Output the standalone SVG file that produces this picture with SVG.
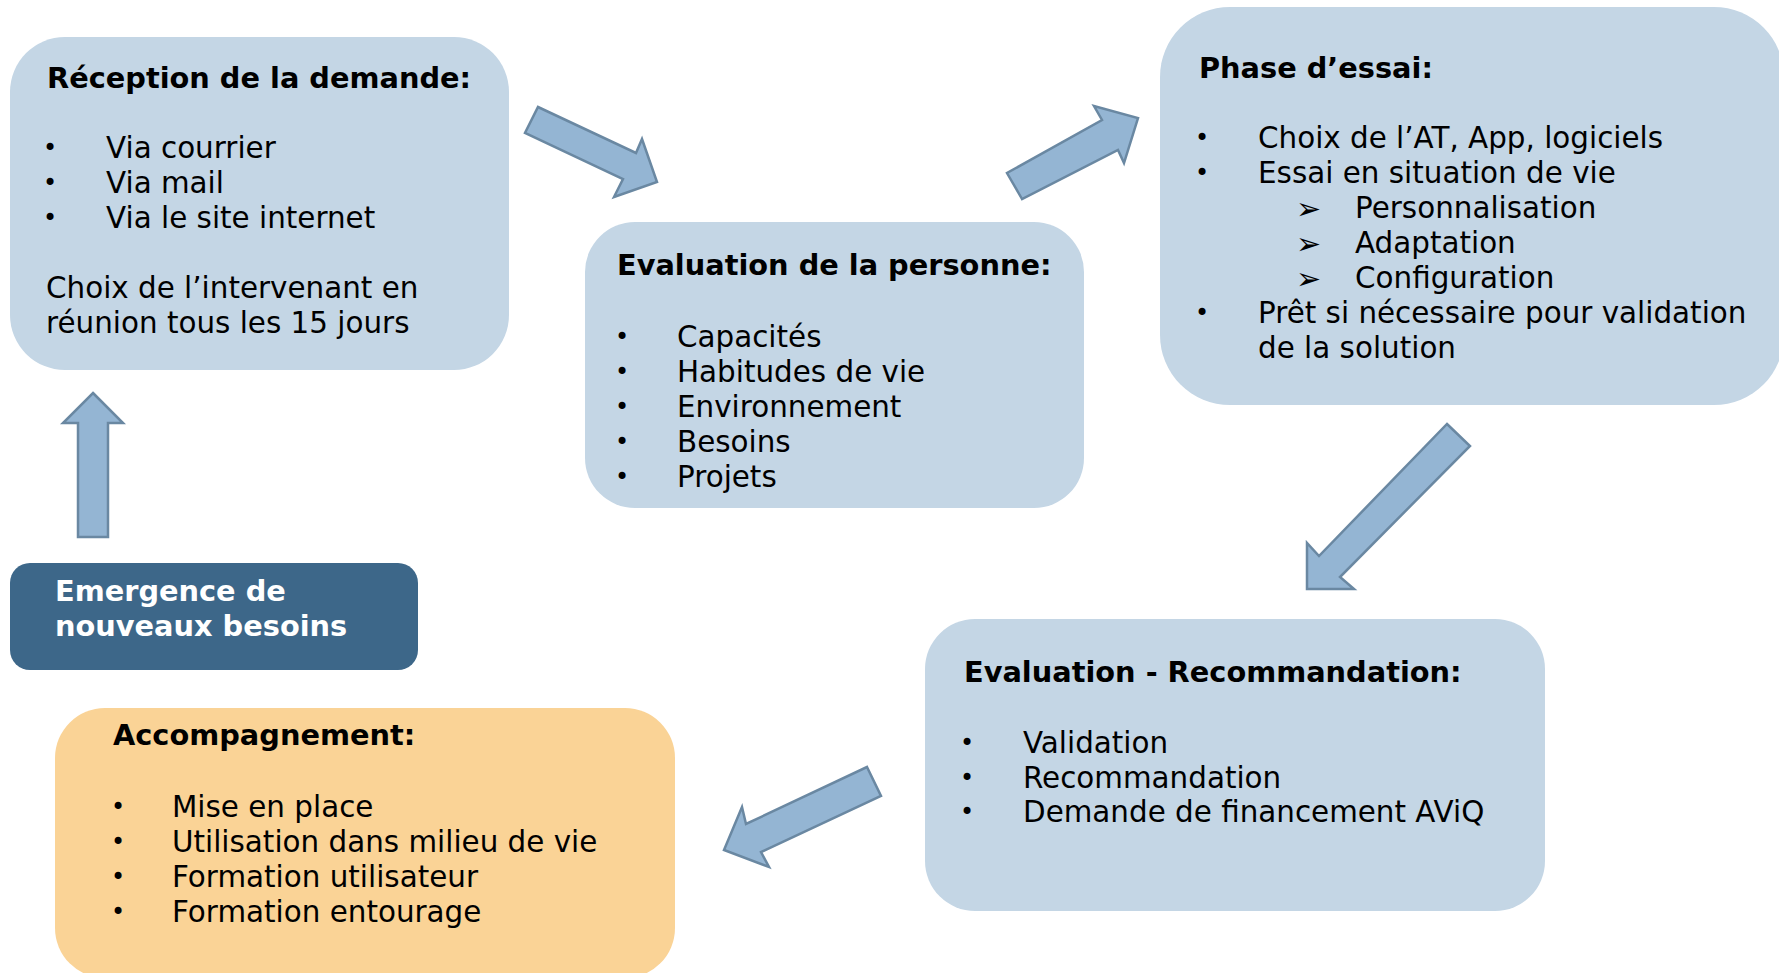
<svg xmlns="http://www.w3.org/2000/svg" width="1779" height="973" viewBox="0 0 1779 973">
<style>
.box{fill:#c4d6e5}
.t{font-family:"DejaVu Sans",Verdana,sans-serif;font-size:28.8px;font-weight:bold;fill:#000}
.b{font-family:"DejaVu Sans",Verdana,sans-serif;font-size:29.4px;fill:#000}
.d{font-family:"DejaVu Sans",Verdana,sans-serif;font-size:24px;fill:#000}
.ar{font-family:"DejaVu Sans",sans-serif;font-size:30px;fill:#000}
.arrow{fill:#94b5d3;stroke:#6a88a2;stroke-width:2.5;stroke-linejoin:miter}
</style>
<rect width="1779" height="973" fill="#fff"/>
<g id="connectors">
<polygon class="arrow" points="538,107 636,153 642,139 657,182 614,197 623,179 525,133"/>
<polygon class="arrow" points="1022,199 1007,173 1102,120 1094,106 1138,118 1124,163 1118,150"/>
<polygon class="arrow" points="1447,424 1470,446 1340,577 1354,589 1307,589 1307,543 1319,556"/>
<polygon class="arrow" points="867,767 881,796 761,852 769,867 724,850 742,807 746,824"/>
<polygon class="arrow" points="93,393 123,423 108,423 108,537 78,537 78,423 63,423"/>
</g>
<g id="reception">
<rect class="box" x="10" y="37" width="499" height="333" rx="55" ry="55"/>
<text class="t" x="47" y="88">Réception de la demande:</text>
<text class="d" x="43" y="156">•</text><text class="b" x="106" y="158">Via courrier</text>
<text class="d" x="43" y="191">•</text><text class="b" x="106" y="193">Via mail</text>
<text class="d" x="43" y="226">•</text><text class="b" x="106" y="228">Via le site internet</text>
<text class="b" x="46" y="298">Choix de l’intervenant en</text>
<text class="b" x="46" y="333">réunion tous les 15 jours</text>
</g>
<g id="evaluation-personne">
<rect class="box" x="585" y="222" width="499" height="286" rx="50" ry="50"/>
<text class="t" x="617" y="275">Evaluation de la personne:</text>
<text class="d" x="615" y="345">•</text><text class="b" x="677" y="347">Capacités</text>
<text class="d" x="615" y="380">•</text><text class="b" x="677" y="382">Habitudes de vie</text>
<text class="d" x="615" y="415">•</text><text class="b" x="677" y="417">Environnement</text>
<text class="d" x="615" y="450">•</text><text class="b" x="677" y="452">Besoins</text>
<text class="d" x="615" y="485">•</text><text class="b" x="677" y="487">Projets</text>
</g>
<g id="phase-essai">
<rect class="box" x="1160" y="7" width="624" height="398" rx="70" ry="70"/>
<text class="t" x="1199" y="78">Phase d’essai:</text>
<text class="d" x="1195" y="146">•</text><text class="b" x="1258" y="148">Choix de l’AT, App, logiciels</text>
<text class="d" x="1195" y="181">•</text><text class="b" x="1258" y="183">Essai en situation de vie</text>
<text class="ar" x="1296" y="219">➢</text><text class="b" x="1355" y="218">Personnalisation</text>
<text class="ar" x="1296" y="254">➢</text><text class="b" x="1355" y="253">Adaptation</text>
<text class="ar" x="1296" y="289">➢</text><text class="b" x="1355" y="288">Configuration</text>
<text class="d" x="1195" y="321">•</text><text class="b" x="1258" y="323">Prêt si nécessaire pour validation</text>
<text class="b" x="1258" y="358">de la solution</text>
</g>
<g id="emergence">
<rect x="10" y="563" width="408" height="107" rx="20" ry="20" fill="#3d6789"/>
<text class="t" x="55" y="601" style="fill:#fff">Emergence de</text>
<text class="t" x="55" y="636" style="fill:#fff">nouveaux besoins</text>
</g>
<g id="accompagnement">
<rect x="55" y="708" width="620" height="270" rx="50" ry="50" fill="#fad396"/>
<text class="t" x="113" y="745">Accompagnement:</text>
<text class="d" x="111" y="815">•</text><text class="b" x="172" y="817">Mise en place</text>
<text class="d" x="111" y="850">•</text><text class="b" x="172" y="852">Utilisation dans milieu de vie</text>
<text class="d" x="111" y="885">•</text><text class="b" x="172" y="887">Formation utilisateur</text>
<text class="d" x="111" y="920">•</text><text class="b" x="172" y="922">Formation entourage</text>
</g>
<g id="evaluation-recommandation">
<rect class="box" x="925" y="619" width="620" height="292" rx="50" ry="50"/>
<text class="t" x="964" y="682">Evaluation - Recommandation:</text>
<text class="d" x="960" y="751">•</text><text class="b" x="1023" y="753">Validation</text>
<text class="d" x="960" y="786">•</text><text class="b" x="1023" y="788">Recommandation</text>
<text class="d" x="960" y="820">•</text><text class="b" x="1023" y="822">Demande de financement AViQ</text>
</g>
</svg>
